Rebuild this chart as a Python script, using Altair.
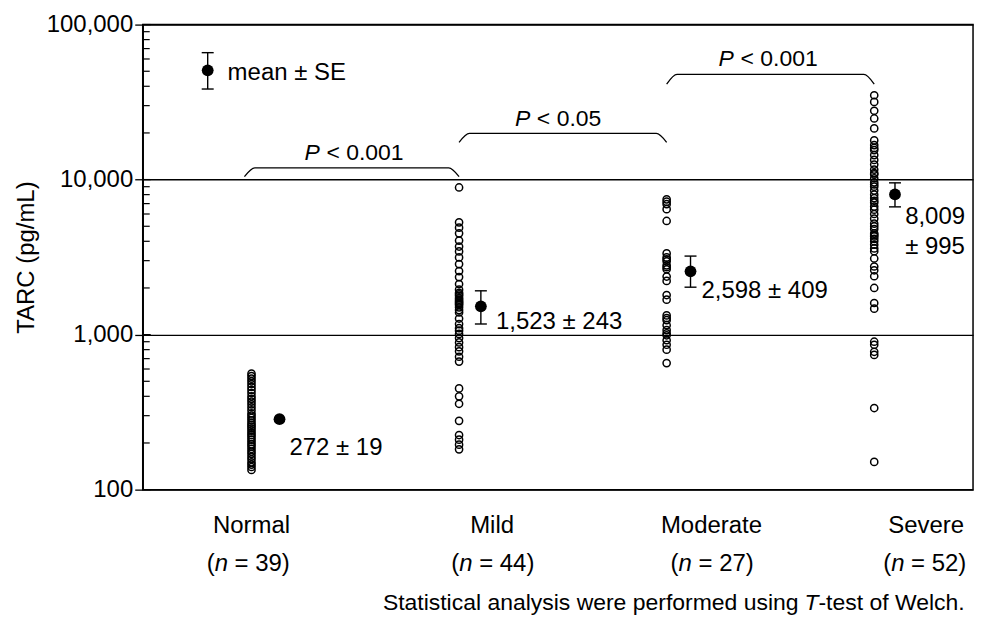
import altair as alt
import pandas as pd

F = "Liberation Sans"

# ---------------- data ----------------
groups = ["Normal", "Mild", "Moderate", "Severe"]
group_x = [0, 1, 2, 3]
n_counts = ["39", "44", "27", "52"]

normal_vals = [560, 540, 520, 500, 480, 460, 440, 420, 400, 385, 370, 355, 340, 325, 310,
               300, 290, 280, 270, 262, 255, 248, 240, 232, 225, 218, 210, 203, 196, 190,
               183, 176, 170, 163, 157, 150, 145, 140, 134]
mild_vals = [8900, 5300, 4900, 4500, 4040, 3700, 3440, 3150, 2850, 2570, 2350, 2120,
             1950, 1860, 1820, 1780, 1720, 1680, 1640, 1610, 1580, 1550, 1500, 1440,
             1390, 1270, 1170, 1100, 1060, 1010, 950, 890, 830, 780, 720, 670,
             450, 400, 358, 278, 225, 210, 195, 182]
moderate_vals = [7460, 7200, 6940, 6450, 5410, 3340, 3150, 3060, 2970, 2800, 2720, 2640,
                 2370, 2220, 1800, 1680, 1330, 1280, 1240, 1150, 1070, 1020, 990, 920,
                 860, 800, 655]
severe_vals = [35000, 31700, 27800, 24800, 21400, 17900, 16700, 16000, 15500, 14400,
               13400, 12500, 11600, 11000, 10800, 10200, 9600, 9300, 9000, 8500,
               8000, 7600, 7300, 7100, 6700, 6400, 6000, 5600, 5200, 5000,
               4800, 4500, 4400, 4300, 4150, 4000, 3800, 3600, 3450,
               3100, 2750, 2600, 2380, 2000, 1600, 1470, 900, 860, 775, 740, 336, 151]

# mean +- SE markers (last entry = the legend sample); Normal's bar hides under its dot
mean_x = [0.135, 1.105, 2.115, 3.10, -0.211]
mean_vals = [285, 1523, 2560, 8030, 50700]
se_low = [285, 1171, 2023, 6670, 38400]
se_high = [285, 1917, 3211, 9530, 65900]

# annotation texts next to the means
ann_x = [0.183, 1.178, 2.168, 3.149, 3.149, -0.115]
ann_v = [185, 1200, 1917, 5740, 3700, 49000]
ann_t = ["272 ± 19", "1,523 ± 243", "2,598 ± 409", "8,009", "± 995", "mean ± SE"]

# significance brackets
br_x0 = [-0.034, 1.0, 2.0]
br_x1 = [1.0, 2.0, 3.0]
br_top = [11900, 19860, 47700]
br_end = [10450, 17400, 41300]
p_x = [0.255, 1.269, 2.250]
p_v = [14830, 24760, 60400]
p_t = ["< 0.001", "< 0.05", "< 0.001"]

# category labels under the axis
cat_x = [0.0, 1.159, 2.216, 3.25]
n_x = [-0.216, 0.962, 2.019, 3.043]
cat_v = 58
n_v = 33

foot_x = 2.664
foot_v = 18.6
foot_a = "Statistical analysis were performed using"
foot_b = "T"
foot_c = "-test of Welch."

major_ticks = [100, 1000, 10000, 100000]
minor_ticks = [200, 300, 400, 500, 600, 700, 800, 900,
               2000, 3000, 4000, 5000, 6000, 7000, 8000, 9000,
               20000, 30000, 40000, 50000, 60000, 70000, 80000, 90000]

# ---------------- tables ----------------
pts = pd.DataFrame([{"x": gx, "v": v}
                    for gx, vals in zip(group_x, [normal_vals, mild_vals, moderate_vals, severe_vals])
                    for v in vals])
means = pd.DataFrame({"x": mean_x, "v": mean_vals, "lo": se_low, "hi": se_high})
caps = pd.DataFrame({"x": mean_x[1:] + mean_x[1:], "v": se_low[1:] + se_high[1:]})
ann = pd.DataFrame({"x": ann_x, "v": ann_v, "t": ann_t})
rows = []
for i in range(3):
    rows += [
        {"b": i, "o": 0, "x": br_x0[i], "v": br_end[i]},
        {"b": i, "o": 1, "x": br_x0[i] + 0.05, "v": br_top[i]},
        {"b": i, "o": 2, "x": br_x1[i] - 0.05, "v": br_top[i]},
        {"b": i, "o": 3, "x": br_x1[i], "v": br_end[i]},
    ]
brackets = pd.DataFrame(rows)
plab = pd.DataFrame({"x": p_x, "v": p_v, "t": p_t})
cats = pd.DataFrame({"x": cat_x, "v": [cat_v] * 4, "t": groups})
nlab = pd.DataFrame({"x": n_x, "v": [n_v] * 4, "t": ["= " + n + ")" for n in n_counts]})
foot = pd.DataFrame({"x": [foot_x], "v": [foot_v], "a": [foot_a], "b": [foot_b], "c": [foot_c]})
majdf = pd.DataFrame({"v": major_ticks})
mindf = pd.DataFrame({"v": minor_ticks})

xs = alt.Scale(domain=[-0.524, 3.476], nice=False, zero=False)
ys = alt.Scale(type="log", domain=[100, 100000], nice=False)

yaxis = alt.Axis(values=major_ticks, format=",", title="TARC (pg/mL)",
                 grid=True, gridColor="black", gridWidth=1.3, gridOpacity=1,
                 tickColor="black", tickSize=8, tickWidth=1.3,
                 domainColor="black", domainWidth=1.5,
                 labelColor="black", labelFont=F, labelFontSize=24, labelPadding=2,
                 titleFont=F, titleFontSize=24, titleFontWeight="normal",
                 titleColor="black", titlePadding=8)

X = alt.X("x:Q", scale=xs, axis=None)
Yn = alt.Y("v:Q", scale=ys, axis=yaxis)

points = alt.Chart(pts).mark_point(shape="circle", filled=False, color="black",
                                   size=52, strokeWidth=1.5, opacity=1).encode(x=X, y=Yn)

inner_major = alt.Chart(majdf).mark_rule(color="black", strokeWidth=1.3).encode(
    y=Yn, x=alt.value(0), x2=alt.value(8))
inner_minor = alt.Chart(mindf).mark_rule(color="black", strokeWidth=1.2).encode(
    y=Yn, x=alt.value(0), x2=alt.value(7))

err = alt.Chart(means).mark_rule(color="black", strokeWidth=1.4).encode(
    x=X, y=alt.Y("lo:Q", scale=ys, axis=yaxis), y2="hi:Q")
cap = alt.Chart(caps).mark_tick(orient="horizontal", size=12, thickness=1.4,
                                color="black", opacity=1).encode(x=X, y=Yn)
dots = alt.Chart(means).mark_circle(size=140, color="black", opacity=1).encode(x=X, y=Yn)

br = alt.Chart(brackets).mark_line(interpolate="monotone", color="black",
                                   strokeWidth=1.3).encode(
    x=X, y=Yn, detail="b:N", order="o:Q")


def txt(df, field="t", **kw):
    base = dict(font=F, color="black", fontSize=24, baseline="middle")
    base.update(kw)
    return alt.Chart(df).mark_text(**base).encode(x=X, y=Yn, text=f"{field}:N")


ann_l = txt(ann, align="left")
p_italic = alt.Chart(plab).mark_text(font=F, color="black", fontSize=23, fontStyle="italic",
                                     align="left", baseline="middle", text="P").encode(x=X, y=Yn)
p_rest = txt(plab, align="left", fontSize=23, dx=22)
cat_l = txt(cats, align="center")
n_open = alt.Chart(nlab).mark_text(font=F, color="black", fontSize=24, align="left",
                                   baseline="middle", text="(").encode(x=X, y=Yn)
n_ital = alt.Chart(nlab).mark_text(font=F, color="black", fontSize=24, align="left",
                                   fontStyle="italic", baseline="middle", text="n",
                                   dx=8).encode(x=X, y=Yn)
n_rest = txt(nlab, align="left", dx=28)
foot_1 = txt(foot, field="a", align="right", fontSize=23, dx=-6)
foot_2 = txt(foot, field="b", align="left", fontSize=23, fontStyle="italic")
foot_3 = txt(foot, field="c", align="left", fontSize=23, dx=14)

chart = alt.layer(
    points, inner_major, inner_minor, err, cap, dots, br,
    ann_l, p_italic, p_rest, cat_l, n_open, n_ital, n_rest, foot_1, foot_2, foot_3
).properties(
    width=832, height=466, autosize="none",
    padding={"left": 135, "top": 16, "right": 15, "bottom": 128}
).configure_view(stroke="black", strokeWidth=1.5)

chart.save("out.html", embed_options={"renderer": "svg", "actions": False})
